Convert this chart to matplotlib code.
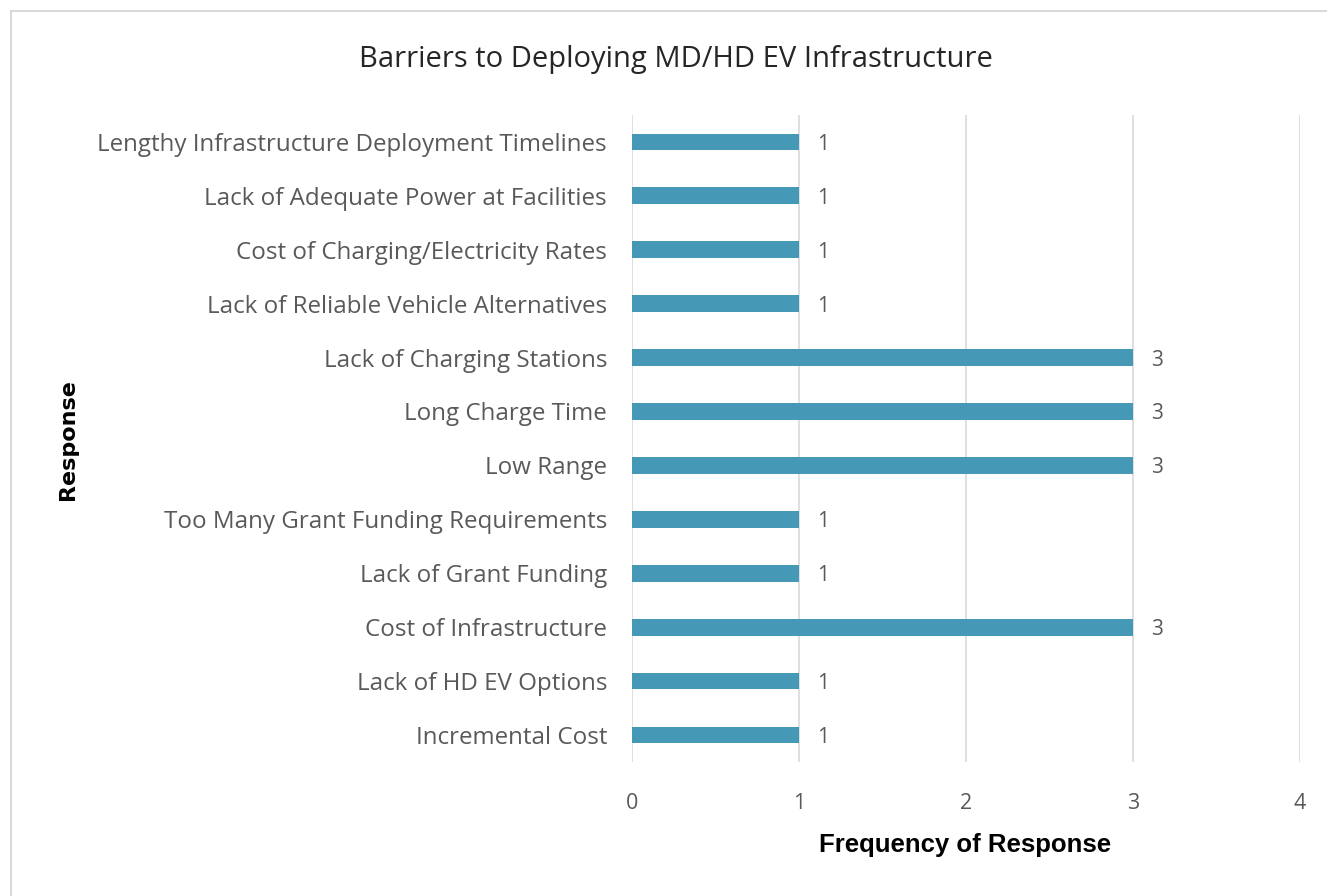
import matplotlib
matplotlib.use("Agg")
import matplotlib.pyplot as plt
from matplotlib.lines import Line2D

# Survey responses, listed bottom to top as drawn
categories = [
    "Incremental Cost",
    "Lack of HD EV Options",
    "Cost of Infrastructure",
    "Lack of Grant Funding",
    "Too Many Grant Funding Requirements",
    "Low Range",
    "Long Charge Time",
    "Lack of Charging Stations",
    "Lack of Reliable Vehicle Alternatives",
    "Cost of Charging/Electricity Rates",
    "Lack of Adequate Power at Facilities",
    "Lengthy Infrastructure Deployment Timelines",
]
counts = [1, 1, 3, 1, 1, 3, 3, 3, 1, 1, 1, 1]
x_ticks = [0, 1, 2, 3, 4]

bar_color = "#4598B6"
text_gray = "#595959"
font = "Open Sans"

fig = plt.figure(figsize=(13.27, 8.96), dpi=100)
ax = fig.add_axes([0.4763, 0.1496, 0.5034, 0.7221])

ypos = list(range(len(categories)))
ax.barh(ypos, counts, height=0.31, color=bar_color, zorder=3)

for y, v in zip(ypos, counts):
    ax.annotate(str(v), xy=(v, y), xytext=(13, 0), textcoords="offset points",
                va="center_baseline", ha="left", fontsize=15, color=text_gray,
                family=font)

ax.set_xlim(0, 4)
ax.set_ylim(-0.5, len(categories) - 0.5)
ax.set_xticks(x_ticks)
ax.set_yticks(ypos)
ax.set_yticklabels(categories, fontsize=17.4, color=text_gray, family=font)
ax.set_xticklabels([str(t) for t in x_ticks], fontsize=15.5, color=text_gray,
                   family=font)
ax.tick_params(axis="both", length=0)
ax.tick_params(axis="x", pad=22)
ax.tick_params(axis="y", pad=18)

ax.grid(axis="x", color="#D9D9D9", linewidth=1.2, zorder=0)
for side in ["top", "right", "bottom", "left"]:
    ax.spines[side].set_visible(False)

fig.text(0.509, 0.934, "Barriers to Deploying MD/HD EV Infrastructure",
         ha="center", va="center", fontsize=21, color="#262626", family=font)
fig.text(0.727, 0.057, "Frequency of Response", ha="center", va="center",
         fontsize=18.5, fontweight="bold", color="black", family="Liberation Sans")
fig.text(0.051, 0.509, "Response", ha="center", va="center", rotation=90,
         fontsize=16, fontweight="bold", color="black", family="DejaVu Sans")

# light chart-area border along the top and left edges
fig.add_artist(Line2D([0.0085, 0.0085], [0.0, 0.9877], color="#D9D9D9",
                      linewidth=1.5, transform=fig.transFigure))
fig.add_artist(Line2D([0.0085, 1.0], [0.9877, 0.9877], color="#D9D9D9",
                      linewidth=1.5, transform=fig.transFigure))

fig.savefig("out.png", dpi=100)
